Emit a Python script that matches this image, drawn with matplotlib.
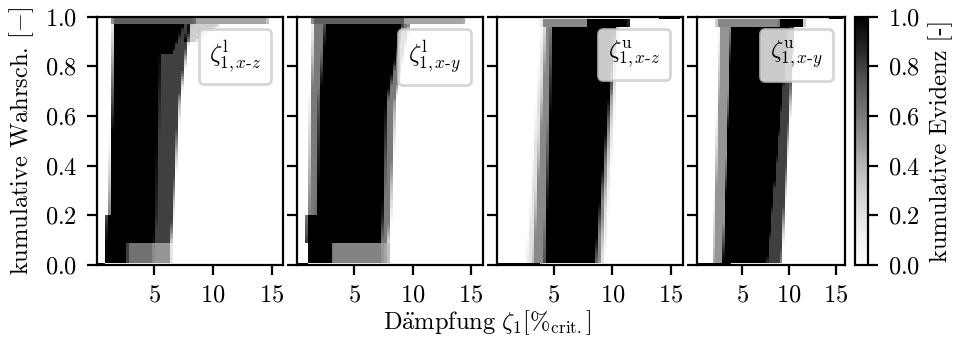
import matplotlib
matplotlib.use("Agg")
import matplotlib.pyplot as plt
from matplotlib.lines import Line2D
import numpy as np

plt.rcParams["font.family"] = "serif"
plt.rcParams["font.serif"] = ["cmr10"]
plt.rcParams["mathtext.fontset"] = "cm"
plt.rcParams["axes.formatter.use_mathtext"] = True
plt.rcParams["font.size"] = 8.8

# Panel labels
labels = [
    r"$\zeta^{\mathrm{l}}_{1,x\text{-}z}$",
    r"$\zeta^{\mathrm{l}}_{1,x\text{-}y}$",
    r"$\zeta^{\mathrm{u}}_{1,x\text{-}z}$",
    r"$\zeta^{\mathrm{u}}_{1,x\text{-}y}$",
]

# Evidence layers: mass, probability knots,
# left / right damping bound at those knots
lxz_mass = [1.0, 0.5, 0.13, 0.37, 0.8, 0.2, 0.25, 0.3, 0.45, 0.25]
lxz_p = [[0, 0.008], [0.008, 0.087], [0.008, 0.087], [0.008, 0.087],
         [0.087, 0.2, 0.201, 0.66, 0.975], [0.087, 0.2, 0.201, 0.66, 0.975],
         [0.85, 0.975], [0.9, 0.975], [0.975, 1.0], [0.975, 1.0]]
lxz_left = [[0.1, 0.1], [0.85, 0.85], [0.85, 0.85], [0.85, 0.85],
            [0.85, 0.9, 1.2, 1.4, 1.55], [0.85, 0.9, 1.2, 1.4, 1.55],
            [5.5, 5.6], [7.6, 8.0], [1.4, 1.4], [1.4, 1.4]]
lxz_right = [[0.8, 0.8], [6.4, 6.4], [4.9, 4.9], [2.7, 2.7],
             [6.4, 6.6, 6.6, 7.2, 8.1], [5.0, 5.15, 5.15, 5.4, 5.65],
             [6.5, 7.6], [8.5, 10.8], [14.7, 14.7], [8.5, 8.5]]

lxy_mass = [1.0, 0.45, 0.12, 0.43, 0.6, 0.4, 0.45, 0.25]
lxy_p = [[0, 0.008], [0.008, 0.087], [0.008, 0.087], [0.008, 0.087],
         [0.087, 0.2, 0.201, 0.66, 0.975], [0.087, 0.2, 0.201, 0.66, 0.975],
         [0.975, 1.0], [0.975, 1.0]]
lxy_left = [[0.1, 0.1], [1.1, 1.1], [1.1, 1.1], [1.1, 1.1],
            [0.85, 0.9, 1.1, 1.3, 1.55], [0.95, 1.0, 1.8, 2.0, 2.5],
            [1.4, 1.4], [1.4, 1.4]]
lxy_right = [[1.1, 1.1], [8.0, 8.0], [7.4, 7.4], [3.1, 3.1],
             [7.9, 8.1, 8.1, 8.5, 9.8], [7.3, 7.5, 7.5, 7.8, 9.2],
             [14.5, 14.5], [9.3, 9.3]]

uxz_mass = [1.0, 0.2, 0.35, 0.45, 0.55, 1.0, 1.0]
uxz_p = [[0, 0.008], [0.008, 0.96], [0.008, 0.96], [0.008, 0.96],
         [0.96, 0.995], [0.96, 0.995], [0.992, 1.0]]
uxz_left = [[0.1, 0.1], [2.65, 4.0], [3.2, 4.3], [4.2, 4.8],
            [4.0, 4.0], [7.8, 7.8], [14.0, 14.0]]
uxz_right = [[3.9, 3.9], [9.3, 10.6], [9.0, 10.4], [8.6, 10.3],
             [7.8, 7.8], [11.5, 11.5], [15.8, 15.8]]

uxy_mass = [1.0, 0.5, 0.8, 0.55, 1.0, 1.0]
uxy_p = [[0, 0.008], [0.008, 0.96], [0.008, 0.96],
         [0.96, 0.995], [0.96, 0.995], [0.992, 1.0]]
uxy_left = [[0.1, 0.1], [1.86, 2.57], [2.92, 3.82],
            [2.2, 2.2], [9.0, 9.0], [14.2, 14.2]]
uxy_right = [[3.8, 3.8], [7.57, 9.9], [9.2, 10.6],
             [9.0, 9.0], [11.6, 11.6], [15.8, 15.8]]

panels = [
    (lxz_mass, lxz_p, lxz_left, lxz_right),
    (lxy_mass, lxy_p, lxy_left, lxy_right),
    (uxz_mass, uxz_p, uxz_left, uxz_right),
    (uxy_mass, uxy_p, uxy_left, uxy_right),
]

x_edges = np.linspace(0.1, 16.0, 65)
p_edges = np.linspace(0.0, 1.0, 101)
p_mid = 0.5 * (p_edges[:-1] + p_edges[1:])
xl, xr = x_edges[:-1], x_edges[1:]


def evidence(mass, pk, left, right):
    grid = np.zeros((len(p_mid), len(xl)))
    for m, p, lo, hi in zip(mass, pk, left, right):
        for j, pc in enumerate(p_mid):
            if p[0] <= pc < p[-1]:
                a = np.interp(pc, p, lo)
                b = np.interp(pc, p, hi)
                cov = np.clip(np.minimum(b, xr) - np.maximum(a, xl), 0, None)
                grid[j] += m * cov / (xr - xl)
    return np.clip(grid, 0, 1)


fig = plt.figure(figsize=(4.77, 1.69), dpi=200)
lefts = [0.1014, 0.3110, 0.5206, 0.7303]
widths = [0.1956, 0.1950, 0.1950, 0.1555]
bottom, height = 0.2160, 0.7346

for i, (mass, pk, left, right) in enumerate(panels):
    ax = fig.add_axes([lefts[i], bottom, widths[i], height])
    mesh = ax.pcolormesh(x_edges, p_edges, evidence(mass, pk, left, right),
                         cmap="Greys", vmin=0, vmax=1)
    ax.set_xlim(0.1, 16.0)
    ax.set_ylim(0, 1)
    ax.set_xticks([5, 10, 15])
    ax.set_yticks([0, 0.2, 0.4, 0.6, 0.8, 1.0])
    if i == 0:
        ax.set_ylabel(r"kumulative Wahrsch. $[-]$", labelpad=3)
    else:
        ax.tick_params(labelleft=False)
    ax.legend([Line2D([], [], ls="none")], [labels[i]], loc="upper right",
              handlelength=0, handletextpad=0)

cax = fig.add_axes([0.8962, bottom, 0.0139, height])
cb = fig.colorbar(mesh, cax=cax, ticks=[0, 0.2, 0.4, 0.6, 0.8, 1.0])
cb.set_label("kumulative Evidenz [-]", labelpad=3)

fig.text(0.511, 0.045, r"$\mathrm{D\ddot{a}mpfung}\ \zeta_1[\%_{\mathrm{crit.}}]$",
         ha="center", va="center")

fig.savefig("out.png", dpi=200)
